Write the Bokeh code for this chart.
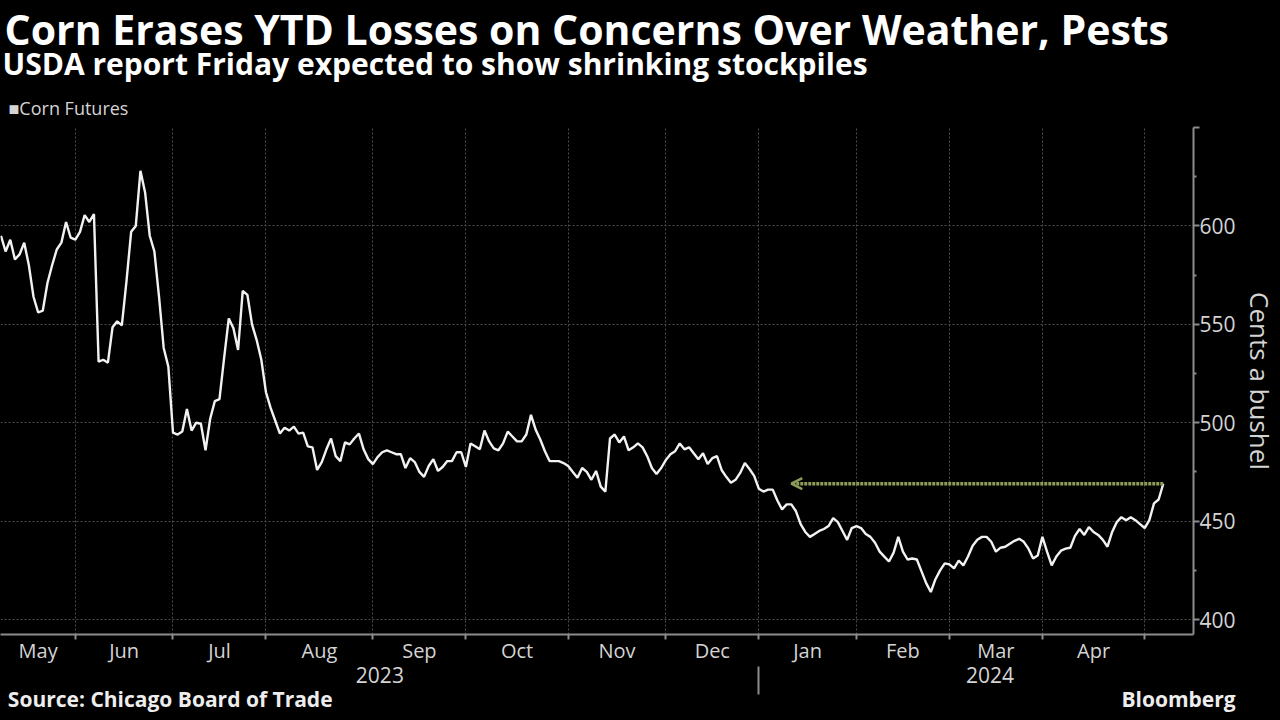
import numpy as np
from bokeh.plotting import figure
from bokeh.models import (LinearAxis, FixedTicker, Grid, Title, Arrow, OpenHead,
                          Range1d, ColumnDataSource)
from bokeh.embed import file_html
from bokeh.resources import INLINE

# ---------------- data ----------------
TITLE = "Corn Erases YTD Losses on Concerns Over Weather, Pests"
SUBTITLE = "USDA report Friday expected to show shrinking stockpiles"
SERIES_NAME = "Corn Futures"
Y_LABEL = "Cents a bushel"
SOURCE = "Source: Chicago Board of Trade"
BRAND = "Bloomberg"

AXIS_START = "2023-05-08"
FIRST_SESSION = "2023-05-09"
LAST_SESSION = "2024-05-07"
HOLIDAYS = ["2023-05-29", "2023-06-19", "2023-07-04", "2023-09-04", "2023-11-23",
            "2023-12-25", "2024-01-01", "2024-01-15", "2024-02-19", "2024-03-29"]

PRICES = [
    595, 587, 593, 583, 585.5, 591.5, 580, 564, 556, 557,
    571, 580, 588, 591.5, 602, 594, 593, 597, 605.5, 602,
    606, 531, 532, 530.5, 548.5, 551.5, 549.5, 572, 597, 600,
    628, 617, 595, 587, 564, 538, 528.5, 495, 494, 495.5,
    507, 496, 500, 499.5, 486, 502, 511, 512, 533, 553,
    548, 537, 567, 565, 550, 542, 532, 515.5, 507.5, 501,
    494.5, 497.5, 496, 498, 494.5, 495, 488, 487.5, 476, 480,
    486.5, 492, 483, 480.5, 490, 489, 492, 494.5, 486.5, 481.5,
    479, 482.5, 485, 486, 485, 484, 484, 477, 482, 480,
    475, 472.5, 478, 481.5, 475.5, 477.5, 480.5, 480.5, 485, 485,
    477.5, 489.5, 488, 486.5, 496, 490.5, 487, 486, 489.5, 495.5,
    493, 490.5, 490.5, 494, 504, 496.5, 491.5, 485.5, 480.5, 480.5,
    480.5, 479.5, 478, 475, 472, 477, 475, 471, 475.5, 467.5,
    465, 492, 494, 490, 493, 486, 487.5, 489.5, 487.5, 483,
    477, 474, 477, 481, 484, 485.5, 489.5, 486.5, 487.5, 484.5,
    481.5, 484.5, 479, 482, 483, 476, 472.5, 469.5, 471, 474.5,
    479.5, 476.5, 473, 466.5, 465, 466, 466, 460.5, 456, 458.5,
    458.5, 455, 448.5, 444.5, 442, 443.5, 445, 446, 447.5, 451.5,
    449.5, 445, 440.5, 446.5, 447.5, 446.5, 443.5, 442, 439, 434.5,
    432, 429.5, 434, 442, 434.5, 430.5, 431, 430.5, 424.5, 418.5,
    414, 420.5, 425, 428.5, 428, 426, 430, 427.5, 432, 437.5,
    440.5, 442, 442, 439.5, 434.5, 436.5, 437, 438.5, 440, 441,
    439.5, 436, 431, 432.5, 442, 434.5, 427.5, 432, 435, 436,
    436.5, 442.5, 446, 443, 447, 444.5, 443, 440.5, 437, 444.5,
    449.5, 452, 450.5, 452, 450.5, 448.5, 446.5, 450.5, 459, 461,
    469,
]

MONTHS = ["May", "Jun", "Jul", "Aug", "Sep", "Oct", "Nov", "Dec",
          "Jan", "Feb", "Mar", "Apr"]
MONTH_STARTS = ["2023-06-01", "2023-07-01", "2023-08-01", "2023-09-01", "2023-10-01",
                "2023-11-01", "2023-12-01", "2024-01-01", "2024-02-01", "2024-03-01",
                "2024-04-01", "2024-05-01"]
YEARS = ["2023", "2024"]
YEAR_START = "2024-01-01"
Y_TICKS = [400, 450, 500, 550, 600]
Y_MIN, Y_MAX = 392.4, 650

ARROW_FROM = "2024-05-07"
ARROW_TO = "2024-01-11"
ARROW_LEVEL = 469

# ---------------- trading-session scale ----------------
cal = np.busdaycalendar(holidays=HOLIDAYS)
origin = np.datetime64(AXIS_START)


def pos(d):
    return float(np.busday_count(origin, np.datetime64(d), busdaycal=cal))


days = np.arange(np.datetime64(FIRST_SESSION), np.datetime64(LAST_SESSION) + 1)
sessions = days[np.is_busday(days, busdaycal=cal)]
assert len(sessions) == len(PRICES), (len(sessions), len(PRICES))
xs = np.busday_count(origin, sessions, busdaycal=cal).astype(float)

bounds = [pos(d) for d in MONTH_STARTS]
first = pos(FIRST_SESSION)
last = pos(LAST_SESSION)
x_lo, x_hi = first - 0.1, last + 6.5
edges = [first] + bounds
mids = [(edges[k] + edges[k + 1]) / 2 for k in range(len(MONTHS))]
jan = pos(YEAR_START)
year_mids = [(first + jan) / 2, (jan + x_hi) / 2 + 3]

FRAME_W = 1195.0


def at_px(px):
    # x-value that sits at a given pixel offset from the frame's left edge
    return x_lo + px / FRAME_W * (x_hi - x_lo)


footer_ticks = [at_px(170), at_px(1180)]

FONT = "Open Sans"
GRID = "#4d4d4d"
AXIS = "#8c8c8c"
LABEL = "#d4d4d4"
OLIVE = "#8e9d58"

p = figure(width=1280, height=720, output_backend="svg", toolbar_location=None,
           x_axis_type=None, y_axis_type=None,
           x_range=Range1d(x_lo, x_hi), y_range=Range1d(Y_MIN, Y_MAX),
           title=TITLE,
           background_fill_color="black", border_fill_color="black",
           outline_line_color=None,
           min_border_left=0, min_border_right=85, min_border_top=127,
           min_border_bottom=86)

p.title.text_font = FONT
p.title.text_font_size = "41px"
p.title.text_font_style = "bold"
p.title.text_color = "white"
p.title.align = "left"
p.title.standoff = -36
p.title.offset = 4

# grids
p.add_layout(Grid(dimension=0, ticker=FixedTicker(ticks=bounds),
                  grid_line_color=GRID, grid_line_dash="2 2", grid_line_width=1))
p.add_layout(Grid(dimension=1, ticker=FixedTicker(ticks=Y_TICKS + [Y_MAX]),
                  grid_line_color=GRID, grid_line_dash="2 2", grid_line_width=1))

# price line
src = ColumnDataSource(dict(x=xs, price=PRICES))
p.line("x", "price", source=src, line_color="#f2f2f2", line_width=2.4)

# arrow
p.add_layout(Arrow(x_start=pos(ARROW_FROM), y_start=ARROW_LEVEL,
                   x_end=pos(ARROW_TO), y_end=ARROW_LEVEL,
                   line_color=OLIVE, line_width=3.5, line_dash="3 1",
                   end=OpenHead(size=11, line_color=OLIVE, line_width=2.5)))

# right y axis
yax = LinearAxis(
    ticker=FixedTicker(ticks=Y_TICKS + [Y_MAX],
                       minor_ticks=[v + 25 for v in Y_TICKS]),
    major_label_overrides={float(Y_MAX): ""},
    axis_label=Y_LABEL,
    axis_line_color=AXIS, axis_line_width=2,
    major_tick_line_color=AXIS, major_tick_line_width=2, major_tick_out=6, major_tick_in=0,
    minor_tick_line_color=AXIS, minor_tick_line_width=2, minor_tick_out=3, minor_tick_in=0,
    major_label_text_color=LABEL, major_label_text_font=FONT,
    major_label_text_font_size="21px", major_label_standoff=0,
    axis_label_text_color=LABEL, axis_label_text_font=FONT,
    axis_label_text_font_size="26px", axis_label_text_font_style="normal",
    axis_label_standoff=3)
p.add_layout(yax, "right")

# month axis
mx = LinearAxis(
    ticker=FixedTicker(ticks=mids, minor_ticks=bounds),
    major_label_overrides={float(m): name for m, name in zip(mids, MONTHS)},
    axis_line_color=AXIS, axis_line_width=2,
    major_tick_line_color=None, major_tick_out=0, major_tick_in=0,
    minor_tick_line_color=AXIS, minor_tick_line_width=2, minor_tick_out=5, minor_tick_in=0,
    major_label_text_color=LABEL, major_label_text_font=FONT,
    major_label_text_font_size="20px", major_label_standoff=-3,
    axis_label_standoff=0)
p.add_layout(mx, "below")

# year axis
yrx = LinearAxis(
    ticker=FixedTicker(ticks=year_mids, minor_ticks=[jan]),
    major_label_overrides={float(m): y for m, y in zip(year_mids, YEARS)},
    axis_line_color=None,
    major_tick_line_color=None, major_tick_out=0, major_tick_in=0,
    minor_tick_line_color=AXIS, minor_tick_line_width=2, minor_tick_out=28, minor_tick_in=0,
    major_label_text_color=LABEL, major_label_text_font=FONT,
    major_label_text_font_size="21px", major_label_standoff=-28,
    axis_label_standoff=0)
p.add_layout(yrx, "below")

# footer row: source note at left, brand at right
fx = LinearAxis(
    ticker=FixedTicker(ticks=footer_ticks, minor_ticks=[]),
    major_label_overrides={footer_ticks[0]: SOURCE, footer_ticks[1]: BRAND},
    axis_line_color=None,
    major_tick_line_color=None, major_tick_out=0, major_tick_in=0,
    minor_tick_line_color=None, minor_tick_out=0, minor_tick_in=0,
    major_label_text_color="#ededed", major_label_text_font=FONT,
    major_label_text_font_size="21px", major_label_text_font_style="bold",
    major_label_standoff=-1, axis_label_standoff=0)
p.add_layout(fx, "below")

# legend-like title and subtitle above the frame
p.add_layout(Title(text="\u25A0" + SERIES_NAME, align="left", text_font=FONT,
                   text_font_size="18px", text_font_style="normal", text_color=LABEL,
                   standoff=15, offset=8), "above")
p.add_layout(Title(text=SUBTITLE, align="left", text_font=FONT, text_font_size="30px",
                   text_font_style="bold", text_color="white", standoff=5, offset=2), "above")

html = file_html(p, INLINE)
html = html.replace("</head>", "<style>html,body{background:#000;}</style></head>", 1)
open("out.html", "w").write(html)
